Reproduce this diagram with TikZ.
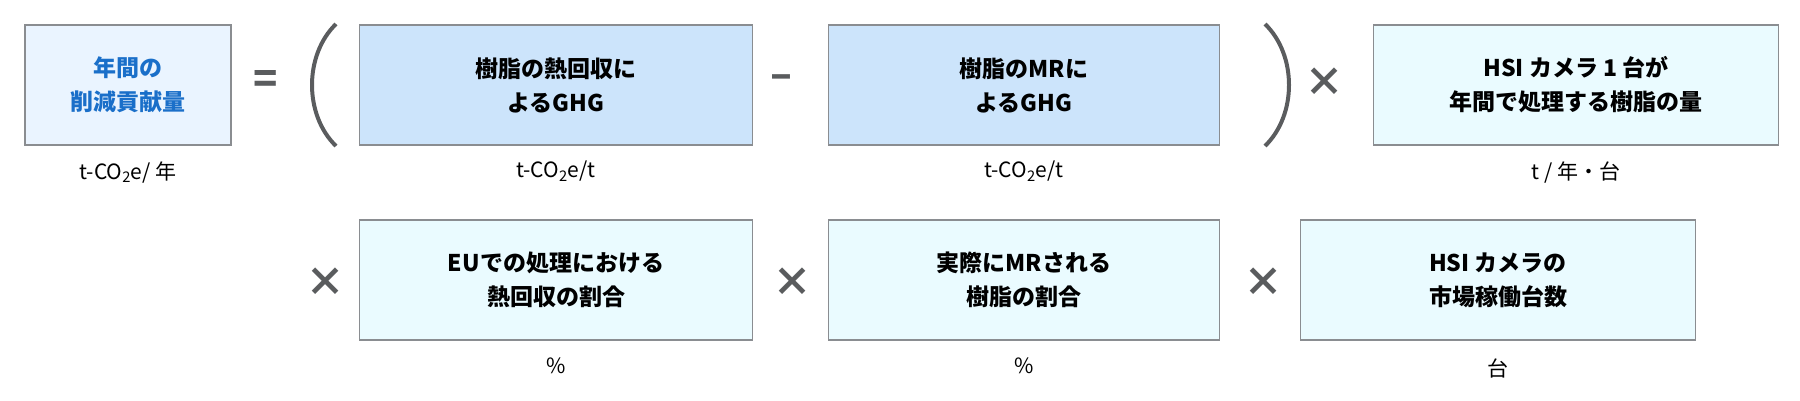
\documentclass[tikz,border=0pt]{standalone}
\usepackage{fontspec}
\setmainfont{Noto Sans CJK JP}
\usetikzlibrary{positioning}
\definecolor{boxline}{HTML}{8A8D91}
\definecolor{fillres}{HTML}{EAF4FF}
\definecolor{fillghg}{HTML}{CCE4FB}
\definecolor{fillfac}{HTML}{EAFBFF}
\definecolor{textblue}{HTML}{1A6FC9}
\definecolor{opgray}{HTML}{5A5C5E}

\begin{document}
\begin{tikzpicture}[x=1pt, y=-1pt,
    term/.style={rectangle, draw=boxline, line width=1.5pt, fill=fillfac,
                 minimum height=120pt, align=center,
                 font=\fontsize{23}{34}\selectfont\bfseries},
    unit/.style={font=\fontsize{21}{24}\selectfont, text=black},
    op/.style={font=\fontsize{40}{40}\selectfont\bfseries, text=opgray},
    paren/.style={draw=opgray, line width=4pt},
  ]
  \useasboundingbox (0,0) rectangle (1800,400);

  % first row
  \node[term, fill=fillres, text=textblue, minimum width=206pt] (result) at (128,85) {年間の\\削減貢献量};
  \node[term, fill=fillghg, minimum width=393pt] (heat) at (556,85) {樹脂の熱回収に\\よるGHG};
  \node[term, fill=fillghg, minimum width=391pt] (mr) at (1024,85) {樹脂のMRに\\よるGHG};
  \node[term, minimum width=405pt] (volume) at (1576,85) {HSI カメラ 1 台が\\年間で処理する樹脂の量};

  % second row
  \node[term, minimum width=393pt] (eurate) at (556,280) {EUでの処理における\\熱回収の割合};
  \node[term, minimum width=391pt] (mrrate) at (1024,280) {実際にMRされる\\樹脂の割合};
  \node[term, minimum width=395pt] (cameras) at (1498,280) {HSI カメラの\\市場稼働台数};

  % units
  \node[unit, below=12pt of result] (uresult) {t-CO\textsubscript{2}e/ 年};
  \node[unit, below=12pt of heat] (uheat) {t-CO\textsubscript{2}e/t};
  \node[unit, below=12pt of mr] (umr) {t-CO\textsubscript{2}e/t};
  \node[unit, below=12pt of volume] (uvolume) {t / 年・台};
  \node[unit, below=14pt of eurate] (ueurate) {\%};
  \node[unit, below=14pt of mrrate] (umrrate) {\%};
  \node[unit, below=14pt of cameras] (ucameras) {台};

  % operators
  \node[op] (eq) at (266,82) {=};
  \node[op] (minus) at (781,82) {–};
  \node[op] (times1) at (1324,82) {×};
  \node[op] (times2) at (325,282) {×};
  \node[op] (times3) at (792,282) {×};
  \node[op] (times4) at (1263,282) {×};

  % brackets
  \coordinate (lptop) at (336,24);
  \coordinate (lpbot) at (336,146);
  \coordinate (rptop) at (1265,24);
  \coordinate (rpbot) at (1265,146);
  \draw[paren] (lptop) .. controls (304,55) and (304,115) .. (lpbot);
  \draw[paren] (rptop) .. controls (1297,55) and (1297,115) .. (rpbot);
\end{tikzpicture}
\end{document}
